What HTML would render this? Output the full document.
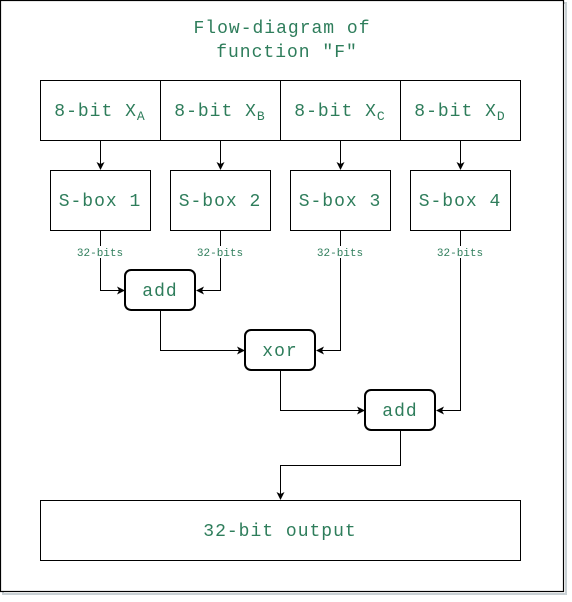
<!DOCTYPE html>
<html><head><meta charset="utf-8"><style>
html,body{margin:0;padding:0;background:#fff;width:572px;height:602px;overflow:hidden}
svg text{font-family:"Liberation Mono",monospace;fill:#2e7d5b}
</style></head><body>
<svg width="572" height="602" viewBox="0 0 572 602" xmlns="http://www.w3.org/2000/svg">
<defs><marker id="a" markerWidth="8" markerHeight="8" refX="7" refY="4" orient="auto" markerUnits="userSpaceOnUse"><path d="M0,0 L8,4 L0,8 L2,4 Z" fill="#000"/></marker></defs>
<rect x="3" y="3" width="563" height="591" fill="none" stroke="#c8d0d4" stroke-width="2"/>
<rect x="0.5" y="0.5" width="563" height="591" fill="#fff" stroke="#000" stroke-width="1.2"/>
<g font-size="18" letter-spacing="1" text-anchor="middle">
<text x="282" y="33">Flow-diagram of</text>
<text x="287" y="57">function "F"</text>
</g>
<g fill="none" stroke="#000" stroke-width="1">
<rect x="40.5" y="80.5" width="480" height="60"/>
<line x1="160.5" y1="80" x2="160.5" y2="140"/><line x1="280.5" y1="80" x2="280.5" y2="140"/><line x1="400.5" y1="80" x2="400.5" y2="140"/>
<rect x="50.5" y="170.5" width="100" height="60"/><rect x="170.5" y="170.5" width="100" height="60"/>
<rect x="290.5" y="170.5" width="100" height="60"/><rect x="410.5" y="170.5" width="100" height="60"/>
<rect x="40.5" y="500.5" width="480" height="60"/>
<path d="M100.5 140V169" marker-end="url(#a)"/><path d="M220.5 140V169" marker-end="url(#a)"/>
<path d="M340.5 140V169" marker-end="url(#a)"/><path d="M460.5 140V169" marker-end="url(#a)"/>
<path d="M100.5 230V290.5H124" marker-end="url(#a)"/><path d="M220.5 230V290.5H197" marker-end="url(#a)"/>
<path d="M160.5 310V350.5H244" marker-end="url(#a)"/><path d="M340.5 230V350.5H317" marker-end="url(#a)"/>
<path d="M280.5 370V410.5H364" marker-end="url(#a)"/><path d="M460.5 230V410.5H437" marker-end="url(#a)"/>
<path d="M400.5 430V465.5H280.5V499" marker-end="url(#a)"/>
</g>
<g fill="#fff" stroke="#000" stroke-width="2">
<rect x="125" y="270" width="70" height="40" rx="6"/>
<rect x="245" y="330" width="70" height="40" rx="6"/>
<rect x="365" y="390" width="70" height="40" rx="6"/>
</g>
<g font-size="11" text-anchor="middle">
<rect x="82" y="246" width="38" height="12" fill="#fff"/><text x="100" y="256">32-bits</text>
<rect x="202" y="246" width="38" height="12" fill="#fff"/><text x="220" y="256">32-bits</text>
<rect x="322" y="246" width="38" height="12" fill="#fff"/><text x="340" y="256">32-bits</text>
<rect x="442" y="246" width="38" height="12" fill="#fff"/><text x="460" y="256">32-bits</text>
</g>
<g font-size="18" letter-spacing="1" text-anchor="middle">
<text x="100" y="116">8-bit X<tspan font-size="13" dy="4">A</tspan></text>
<text x="220" y="116">8-bit X<tspan font-size="13" dy="4">B</tspan></text>
<text x="340" y="116">8-bit X<tspan font-size="13" dy="4">C</tspan></text>
<text x="460" y="116">8-bit X<tspan font-size="13" dy="4">D</tspan></text>
<text x="100" y="206">S-box 1</text><text x="220" y="206">S-box 2</text>
<text x="340" y="206">S-box 3</text><text x="460" y="206">S-box 4</text>
<text x="160" y="296">add</text><text x="280" y="356">xor</text><text x="400" y="416">add</text>
<text x="280" y="536">32-bit output</text>
</g>
</svg>
</body></html>
